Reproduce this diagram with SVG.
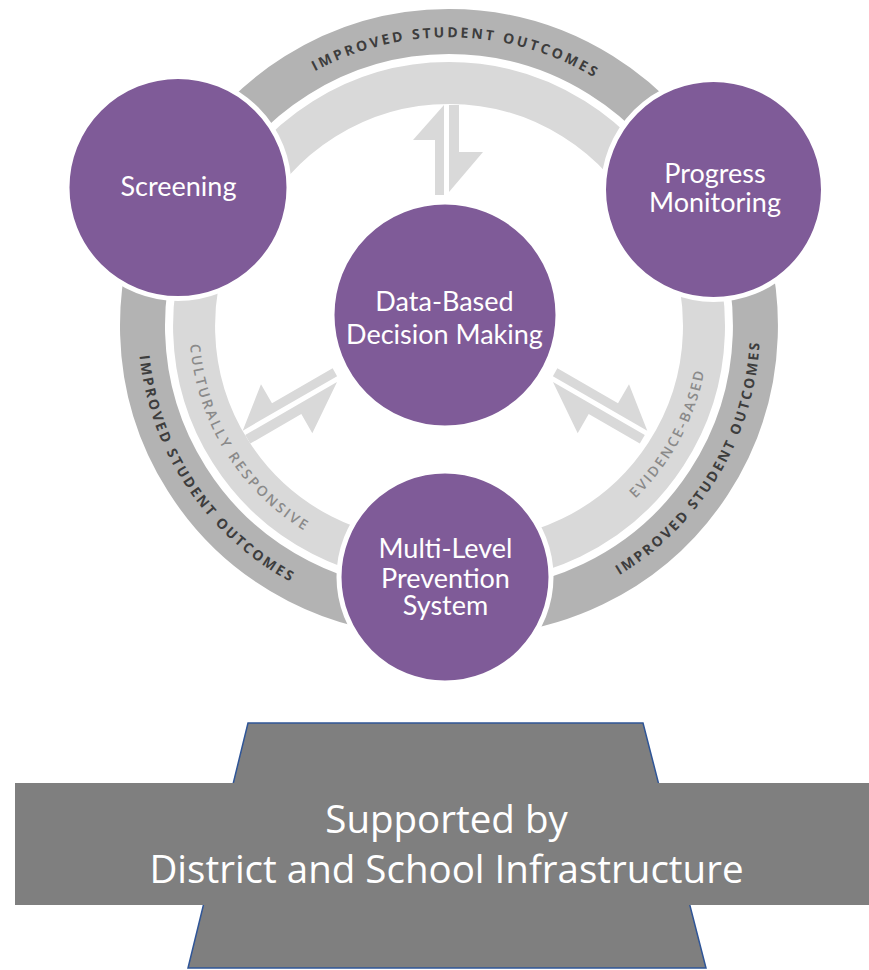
<svg xmlns="http://www.w3.org/2000/svg" xmlns:xlink="http://www.w3.org/1999/xlink" width="869" height="970" viewBox="0 0 869 970">
<style>
.dark{fill:none;stroke:#b3b3b3;stroke-width:45}
.light{fill:none;stroke:#d9d9d9;stroke-width:42}
.arrow{fill:#d9d9d9}
.node{fill:#7f5b98;stroke:#ffffff;stroke-width:5}
.ntext{font-family:Lato,"Open Sans","Liberation Sans",sans-serif;font-size:27px;fill:#ffffff;text-anchor:middle}
.rtext{font-family:"Open Sans","Liberation Sans",sans-serif;font-size:14px;font-weight:700;fill:#3d3d3d;text-anchor:middle}
.ltext{font-family:"Open Sans","Liberation Sans",sans-serif;font-size:14px;font-weight:600;fill:#8a8a8a;text-anchor:middle}
.btext{font-family:"Open Sans","Liberation Sans",sans-serif;font-size:38.5px;fill:#ffffff;text-anchor:middle}
</style>
<defs>
<path id="tpTop" d="M173.7,262 A281,281 0 0 1 726.9,276.5"/>
<path id="tpLeftDark" d="M209.7,134.7 A291,291 0 0 0 523.3,601.3"/>
<path id="tpLeftLight" d="M254.3,162 A239.6,239.6 0 0 0 498.2,555.4"/>
<path id="tpRightDark" d="M389.3,605.9 A291,291 0 0 0 678,123.5"/>
<path id="tpRightLight" d="M413.9,559.2 A239.6,239.6 0 0 0 633.3,151.6"/>
<g id="diagArrow">
<polygon points="-1,-233 -32,-194 -10,-194 -10,-124 -1,-124"/>
<polygon points="4,-233 14,-233 14,-174 36,-174 4,-127"/>
</g>
</defs>
<rect width="869" height="970" fill="#ffffff"/>
<g id="rings">
<path class="dark" d="M191.1,193.3 A286.5,286.5 0 0 1 706.7,192.9"/>
<path class="light" d="M237.4,215.7 A235,235 0 0 1 660.4,215.4"/>
<path class="dark" d="M178.4,187.1 A286.5,286.5 0 0 0 447,611.9"/>
<path class="light" d="M223.5,212.1 A235,235 0 0 0 443.8,560.5"/>
<path class="dark" d="M442,611.2 A286.5,286.5 0 0 0 719.3,186.7"/>
<path class="light" d="M446.9,560 A235,235 0 0 0 674.3,211.7"/>
<text class="rtext" letter-spacing="2.8"><textPath xlink:href="#tpTop" href="#tpTop" startOffset="50%">IMPROVED STUDENT OUTCOMES</textPath></text>
<text class="rtext" letter-spacing="2.4"><textPath xlink:href="#tpLeftDark" href="#tpLeftDark" startOffset="50%">IMPROVED STUDENT OUTCOMES</textPath></text>
<text class="rtext" letter-spacing="2.4"><textPath xlink:href="#tpRightDark" href="#tpRightDark" startOffset="50%">IMPROVED STUDENT OUTCOMES</textPath></text>
<text class="ltext" letter-spacing="2.6"><textPath xlink:href="#tpLeftLight" href="#tpLeftLight" startOffset="50%">CULTURALLY RESPONSIVE</textPath></text>
<text class="ltext" letter-spacing="2.4"><textPath xlink:href="#tpRightLight" href="#tpRightLight" startOffset="50%">EVIDENCE-BASED</textPath></text>
</g>
<g id="connectors" class="arrow">
<g id="arrow-top">
<polygon points="444,105 413,140 435,140 435,195 444,195"/>
<polygon points="449,105 459,105 459,152 483,152 449,192"/>
</g>
<use id="arrow-right" xlink:href="#diagArrow" href="#diagArrow" transform="translate(445,315) rotate(120)"/>
<use id="arrow-left" xlink:href="#diagArrow" href="#diagArrow" transform="translate(445,315) scale(-1,1) rotate(120)"/>
</g>
<g id="node-screening">
<circle class="node" cx="178" cy="187.5" r="111"/>
<text class="ntext" x="178.5" y="196">Screening</text>
</g>
<g id="node-progress">
<circle class="node" cx="713.5" cy="189.5" r="110"/>
<text class="ntext" x="715" y="183">Progress</text>
<text class="ntext" x="715" y="212">Monitoring</text>
</g>
<g id="node-data">
<circle class="node" cx="445" cy="315" r="113"/>
<text class="ntext" x="444.5" y="311">Data-Based</text>
<text class="ntext" x="444.5" y="344">Decision Making</text>
</g>
<g id="node-multilevel">
<circle class="node" cx="445" cy="577" r="106"/>
<text class="ntext" x="445.5" y="558">Multi-Level</text>
<text class="ntext" x="445.5" y="588">Prevention</text>
<text class="ntext" x="445.5" y="615">System</text>
</g>
<g id="node-infrastructure">
<polygon points="248,723 643,723 706,968 188,968" fill="#7f7f7f" stroke="#2f5597" stroke-width="1.5"/>
<rect x="15" y="783" width="854" height="122" fill="#7f7f7f"/>
<text class="btext" x="446.5" y="833">Supported by</text>
<text class="btext" x="446.5" y="883">District and School Infrastructure</text>
</g>
</svg>
